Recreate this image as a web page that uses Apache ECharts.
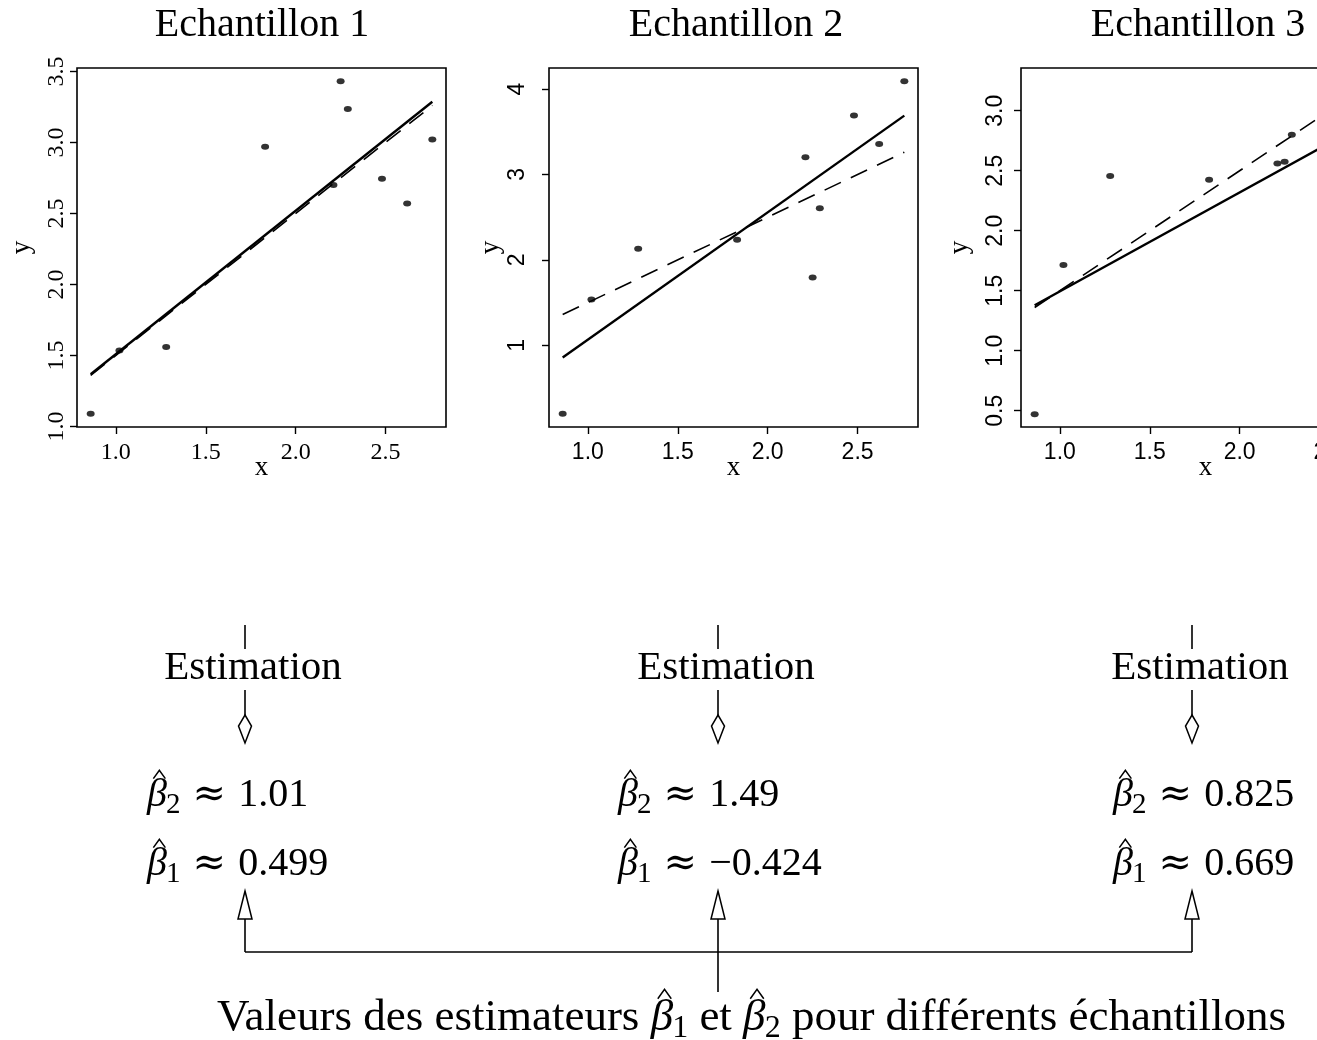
<!DOCTYPE html>
<html>
<head>
<meta charset="utf-8">
<script src="https://cdn.jsdelivr.net/npm/echarts@6/dist/echarts.min.js"></script>
<style>
  html, body { margin: 0; padding: 0; background: #fff; overflow: hidden; }
  #chart { width: 1317px; height: 1040px; }
</style>
</head>
<body>
<div id="chart"></div>
<script>
// Design points shared by the three samples
const xValues = [0.86, 1.02, 1.28, 1.83, 2.21, 2.25, 2.29, 2.48, 2.62, 2.76];
// Observed responses of each sample (sample 3: only the points with x < 2.3 fall on the page)
const ySample1 = [1.09, 1.535, 1.56, 2.97, 2.70, 3.43, 3.235, 2.745, 2.57, 3.02];
const ySample2 = [0.20, 1.535, 2.13, 2.235, 3.20, 1.795, 2.605, 3.69, 3.355, 4.09];
const ySample3 = [0.47, 1.715, 2.455, 2.425, 2.56, 2.575, 2.80];

const sampleTitles = ['Echantillon 1', 'Echantillon 2', 'Echantillon 3'];

// Least-squares estimates for each sample
const beta1Hat = [0.499, -0.424, 0.669];
const beta2Hat = [1.01, 1.49, 0.825];
const beta1Text = ['0.499', '\u22120.424', '0.669'];
const beta2Text = ['1.01', '1.49', '0.825'];

// Model used to simulate the samples (dashed line)
const trueBeta1 = 0.5;
const trueBeta2 = 1;

// Axis ticks and limits
const xTicks = [1.0, 1.5, 2.0, 2.5];
const yTicks1 = [1.0, 1.5, 2.0, 2.5, 3.0, 3.5];
const yTicks2 = [1, 2, 3, 4];
const yTicks3 = [0.5, 1.0, 1.5, 2.0, 2.5, 3.0];
const xLimits = [0.784, 2.836];
const yLimits1 = [0.996, 3.524];
const yLimits2 = [0.044, 4.246];
const yLimits3 = [0.364, 3.356];

const SERIF = 'Liberation Serif';
const SANS = 'Liberation Sans';
const INK = '#000';

const panels = [
  { y: ySample1, yTicks: yTicks1, yLim: yLimits1, left: 77,   tickFont: SERIF, tickSize: 24, yFmt: 1, yMargin: 8,  yNameGap: 42, titleX: 262 },
  { y: ySample2, yTicks: yTicks2, yLim: yLimits2, left: 549,  tickFont: SANS,  tickSize: 23, yFmt: 0, yMargin: 20, yNameGap: 45, titleX: 736 },
  { y: ySample3, yTicks: yTicks3, yLim: yLimits3, left: 1021, tickFont: SANS,  tickSize: 23, yFmt: 1, yMargin: 14, yNameGap: 48, titleX: 1198 }
];

const GRID_TOP = 68, GRID_W = 369, GRID_H = 359;

const grids = [], xAxes = [], yAxes = [], series = [], titles = [];

panels.forEach((p, i) => {
  grids.push({
    left: p.left, top: GRID_TOP, width: GRID_W, height: GRID_H,
    outerBoundsMode: 'none', containLabel: false,
    show: true, borderColor: INK, borderWidth: 1.6, backgroundColor: 'transparent'
  });
  xAxes.push({
    gridIndex: i, type: 'value', min: xLimits[0], max: xLimits[1],
    name: 'x', nameLocation: 'middle', nameGap: 27, nameMoveOverlap: false,
    nameTextStyle: { fontFamily: SERIF, fontSize: 27, color: INK },
    axisLine: { show: false },
    axisTick: { show: true, inside: false, length: 7, customValues: xTicks, lineStyle: { color: INK, width: 1.4 } },
    axisLabel: {
      show: true, margin: 14, customValues: xTicks, color: INK,
      fontFamily: p.tickFont, fontSize: p.tickSize,
      formatter: v => Number(v).toFixed(1)
    },
    splitLine: { show: false }
  });
  yAxes.push({
    gridIndex: i, type: 'value', min: p.yLim[0], max: p.yLim[1],
    name: 'y', nameLocation: 'middle', nameGap: p.yNameGap, nameRotate: 90,
    nameTextStyle: { fontFamily: SERIF, fontSize: 27, color: INK },
    axisLine: { show: false },
    axisTick: { show: true, inside: false, length: 7, customValues: p.yTicks, lineStyle: { color: INK, width: 1.4 } },
    axisLabel: {
      show: true, rotate: 90, margin: p.yMargin, customValues: p.yTicks, color: INK,
      fontFamily: p.tickFont, fontSize: p.tickSize,
      formatter: v => Number(v).toFixed(p.yFmt)
    },
    splitLine: { show: false }
  });

  const xMin = Math.min(...xValues), xMax = Math.max(...xValues);
  // dashed: model line
  series.push({
    type: 'line', xAxisIndex: i, yAxisIndex: i, symbol: 'none', silent: true, z: 2,
    data: [[xMin, trueBeta1 + trueBeta2 * xMin], [xMax, trueBeta1 + trueBeta2 * xMax]],
    lineStyle: { color: INK, width: 1.6, type: [18, 11] }
  });
  // solid: fitted regression line
  series.push({
    type: 'line', xAxisIndex: i, yAxisIndex: i, symbol: 'none', silent: true, z: 3,
    data: [[xMin, beta1Hat[i] + beta2Hat[i] * xMin], [xMax, beta1Hat[i] + beta2Hat[i] * xMax]],
    lineStyle: { color: INK, width: 2.4 }
  });
  // observations
  series.push({
    type: 'scatter', xAxisIndex: i, yAxisIndex: i, silent: true, z: 4,
    symbol: 'circle', symbolSize: [8, 6],
    itemStyle: { color: '#000' },
    data: p.y.map((yy, k) => [xValues[k], yy])
  });

  titles.push({
    text: sampleTitles[i], left: p.titleX, top: 5, textAlign: 'center', padding: 0,
    textStyle: { fontFamily: SERIF, fontSize: 40, fontWeight: 'normal', color: INK }
  });
});

// ---- Estimation diagram below the plots ----
const measureCtx = document.createElement('canvas').getContext('2d');
function textWidth(text, size, family, italic) {
  measureCtx.font = (italic ? 'italic ' : '') + size + 'px "' + family + '"';
  return measureCtx.measureText(text).width;
}

// Lays out formula pieces on a common baseline: italic symbols, hats, subscripts
function formulaRow(pieces, x0, baseline, size) {
  const els = [];
  let x = x0;
  pieces.forEach(p => {
    const s = p.sub ? Math.round(size * 0.72) : size;
    const fam = p.family || SERIF;
    x += (p.gap || 0) * size;
    const w = textWidth(p.text, s, fam, p.italic);
    const dy = p.sub ? size * 0.15 : 0;
    els.push({
      type: 'text', x: x, y: baseline + dy - 0.3375 * s, silent: true,
      style: {
        text: p.text, fontFamily: fam, fontSize: s, fontStyle: p.italic ? 'italic' : 'normal',
        fill: INK, align: 'left', verticalAlign: 'middle'
      }
    });
    if (p.hat) {
      const cx = x + w * 0.62, hw = size * 0.15;
      els.push({
        type: 'polyline', silent: true,
        shape: { points: [[cx - hw, baseline - 0.76 * size], [cx, baseline - 0.97 * size], [cx + hw, baseline - 0.76 * size]] },
        style: { stroke: INK, lineWidth: 1.5, fill: null }
      });
    }
    x += w;
  });
  return els;
}

function estimatorRow(idx, value, x0, baseline) {
  return formulaRow([
    { text: '\u03B2', italic: true, hat: true },
    { text: String(idx), sub: true, gap: -0.02 },
    { text: '\u2248', family: 'DejaVu Serif', gap: 0.3 },
    { text: value, gap: 0.3 }
  ], x0, baseline, 40);
}

const columnX = [245, 718, 1192];
const formulaLeft = [147, 618, 1113];
const graphics = [];
const lineStyle = { stroke: INK, lineWidth: 1.6 };

columnX.forEach((cx, i) => {
  graphics.push({ type: 'line', silent: true, shape: { x1: cx, y1: 625, x2: cx, y2: 649 }, style: lineStyle });
  graphics.push({
    type: 'text', x: cx + 8, y: 668, silent: true,
    style: { text: 'Estimation', fontFamily: SERIF, fontSize: 41, fill: INK, align: 'center', verticalAlign: 'middle' }
  });
  graphics.push({ type: 'line', silent: true, shape: { x1: cx, y1: 690, x2: cx, y2: 715 }, style: lineStyle });
  graphics.push({
    type: 'polygon', silent: true,
    shape: { points: [[cx, 715], [cx + 6.5, 726], [cx, 743], [cx - 6.5, 726]] },
    style: { stroke: INK, lineWidth: 1.5, fill: '#fff' }
  });
  graphics.push(...estimatorRow(2, beta2Text[i], formulaLeft[i], 809));
  graphics.push(...estimatorRow(1, beta1Text[i], formulaLeft[i], 878));
  graphics.push({
    type: 'polygon', silent: true,
    shape: { points: [[cx, 891], [cx + 7, 919], [cx - 7, 919]] },
    style: { stroke: INK, lineWidth: 1.5, fill: '#fff' }
  });
  graphics.push({ type: 'line', silent: true, shape: { x1: cx, y1: 919, x2: cx, y2: i === 1 ? 992 : 952 }, style: lineStyle });
});
graphics.push({ type: 'line', silent: true, shape: { x1: columnX[0], y1: 952, x2: columnX[2], y2: 952 }, style: lineStyle });

graphics.push(...formulaRow([
  { text: 'Valeurs des estimateurs ' },
  { text: '\u03B2', italic: true, hat: true },
  { text: '1', sub: true, gap: -0.02 },
  { text: ' et ' },
  { text: '\u03B2', italic: true, hat: true },
  { text: '2', sub: true, gap: -0.02 },
  { text: ' pour diff\u00E9rents \u00E9chantillons' }
], 217, 1033, 45));

const chart = echarts.init(document.getElementById('chart'), null, { renderer: 'canvas' });
chart.setOption({
  animation: false,
  backgroundColor: '#fff',
  title: titles,
  grid: grids,
  xAxis: xAxes,
  yAxis: yAxes,
  series: series,
  graphic: { elements: graphics }
});
</script>
</body>
</html>
